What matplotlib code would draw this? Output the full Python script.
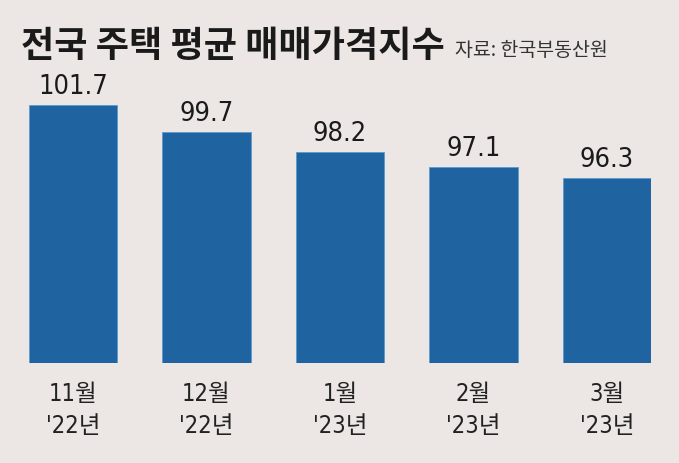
import matplotlib.pyplot as plt

# 전국 주택 평균 매매가격지수 (자료: 한국부동산원)
months = ["11월", "12월", "1월", "2월", "3월"]
years = ["'22년", "'22년", "'23년", "'23년", "'23년"]
index_vals = [101.7, 99.7, 98.2, 97.1, 96.3]

bg = "#ece7e4"
bar_color = "#1f64a1"
kr = ["Noto Sans CJK KR", "DejaVu Sans"]
num = ["DejaVu Sans", "Noto Sans CJK KR"]

fig = plt.figure(figsize=(6.79, 4.64), dpi=100, facecolor=bg)
ax = fig.add_axes([29 / 679, 1 - 364 / 464, (651 - 29) / 679, 270 / 464])
ax.set_facecolor(bg)

x = range(len(index_vals))
ax.bar(x, index_vals, width=0.66, color=bar_color, edgecolor="#5b9bd0", linewidth=0.6)
for xi, v in zip(x, index_vals):
    ax.text(xi, v + 0.45, f"{v}", ha="center", va="bottom", fontsize=19.5,
            family=num, stretch="condensed", color="#1a1a1a")

ax.set_xlim(-0.33, 4.33)
ax.set_ylim(82.6, 102.6)
ax.set_xticks(list(x))
ax.set_xticklabels([f"{m}\n{y}" for m, y in zip(months, years)], fontsize=17,
                   family=num, stretch="condensed", color="#222222", linespacing=1.42)
ax.tick_params(axis="x", length=0, pad=13)
ax.set_yticks([])
for s in ax.spines.values():
    s.set_visible(False)

fig.text(21 / 679, 1 - 46 / 464, "전국 주택 평균 매매가격지수", fontsize=26, fontweight="bold",
         family=kr, va="center", ha="left", color="#1a1a1a")
fig.text(455 / 679, 1 - 51 / 464, "자료: 한국부동산원", fontsize=14,
         family=kr, va="center", ha="left", color="#333333")

fig.savefig("out.png", dpi=100, facecolor=bg)
